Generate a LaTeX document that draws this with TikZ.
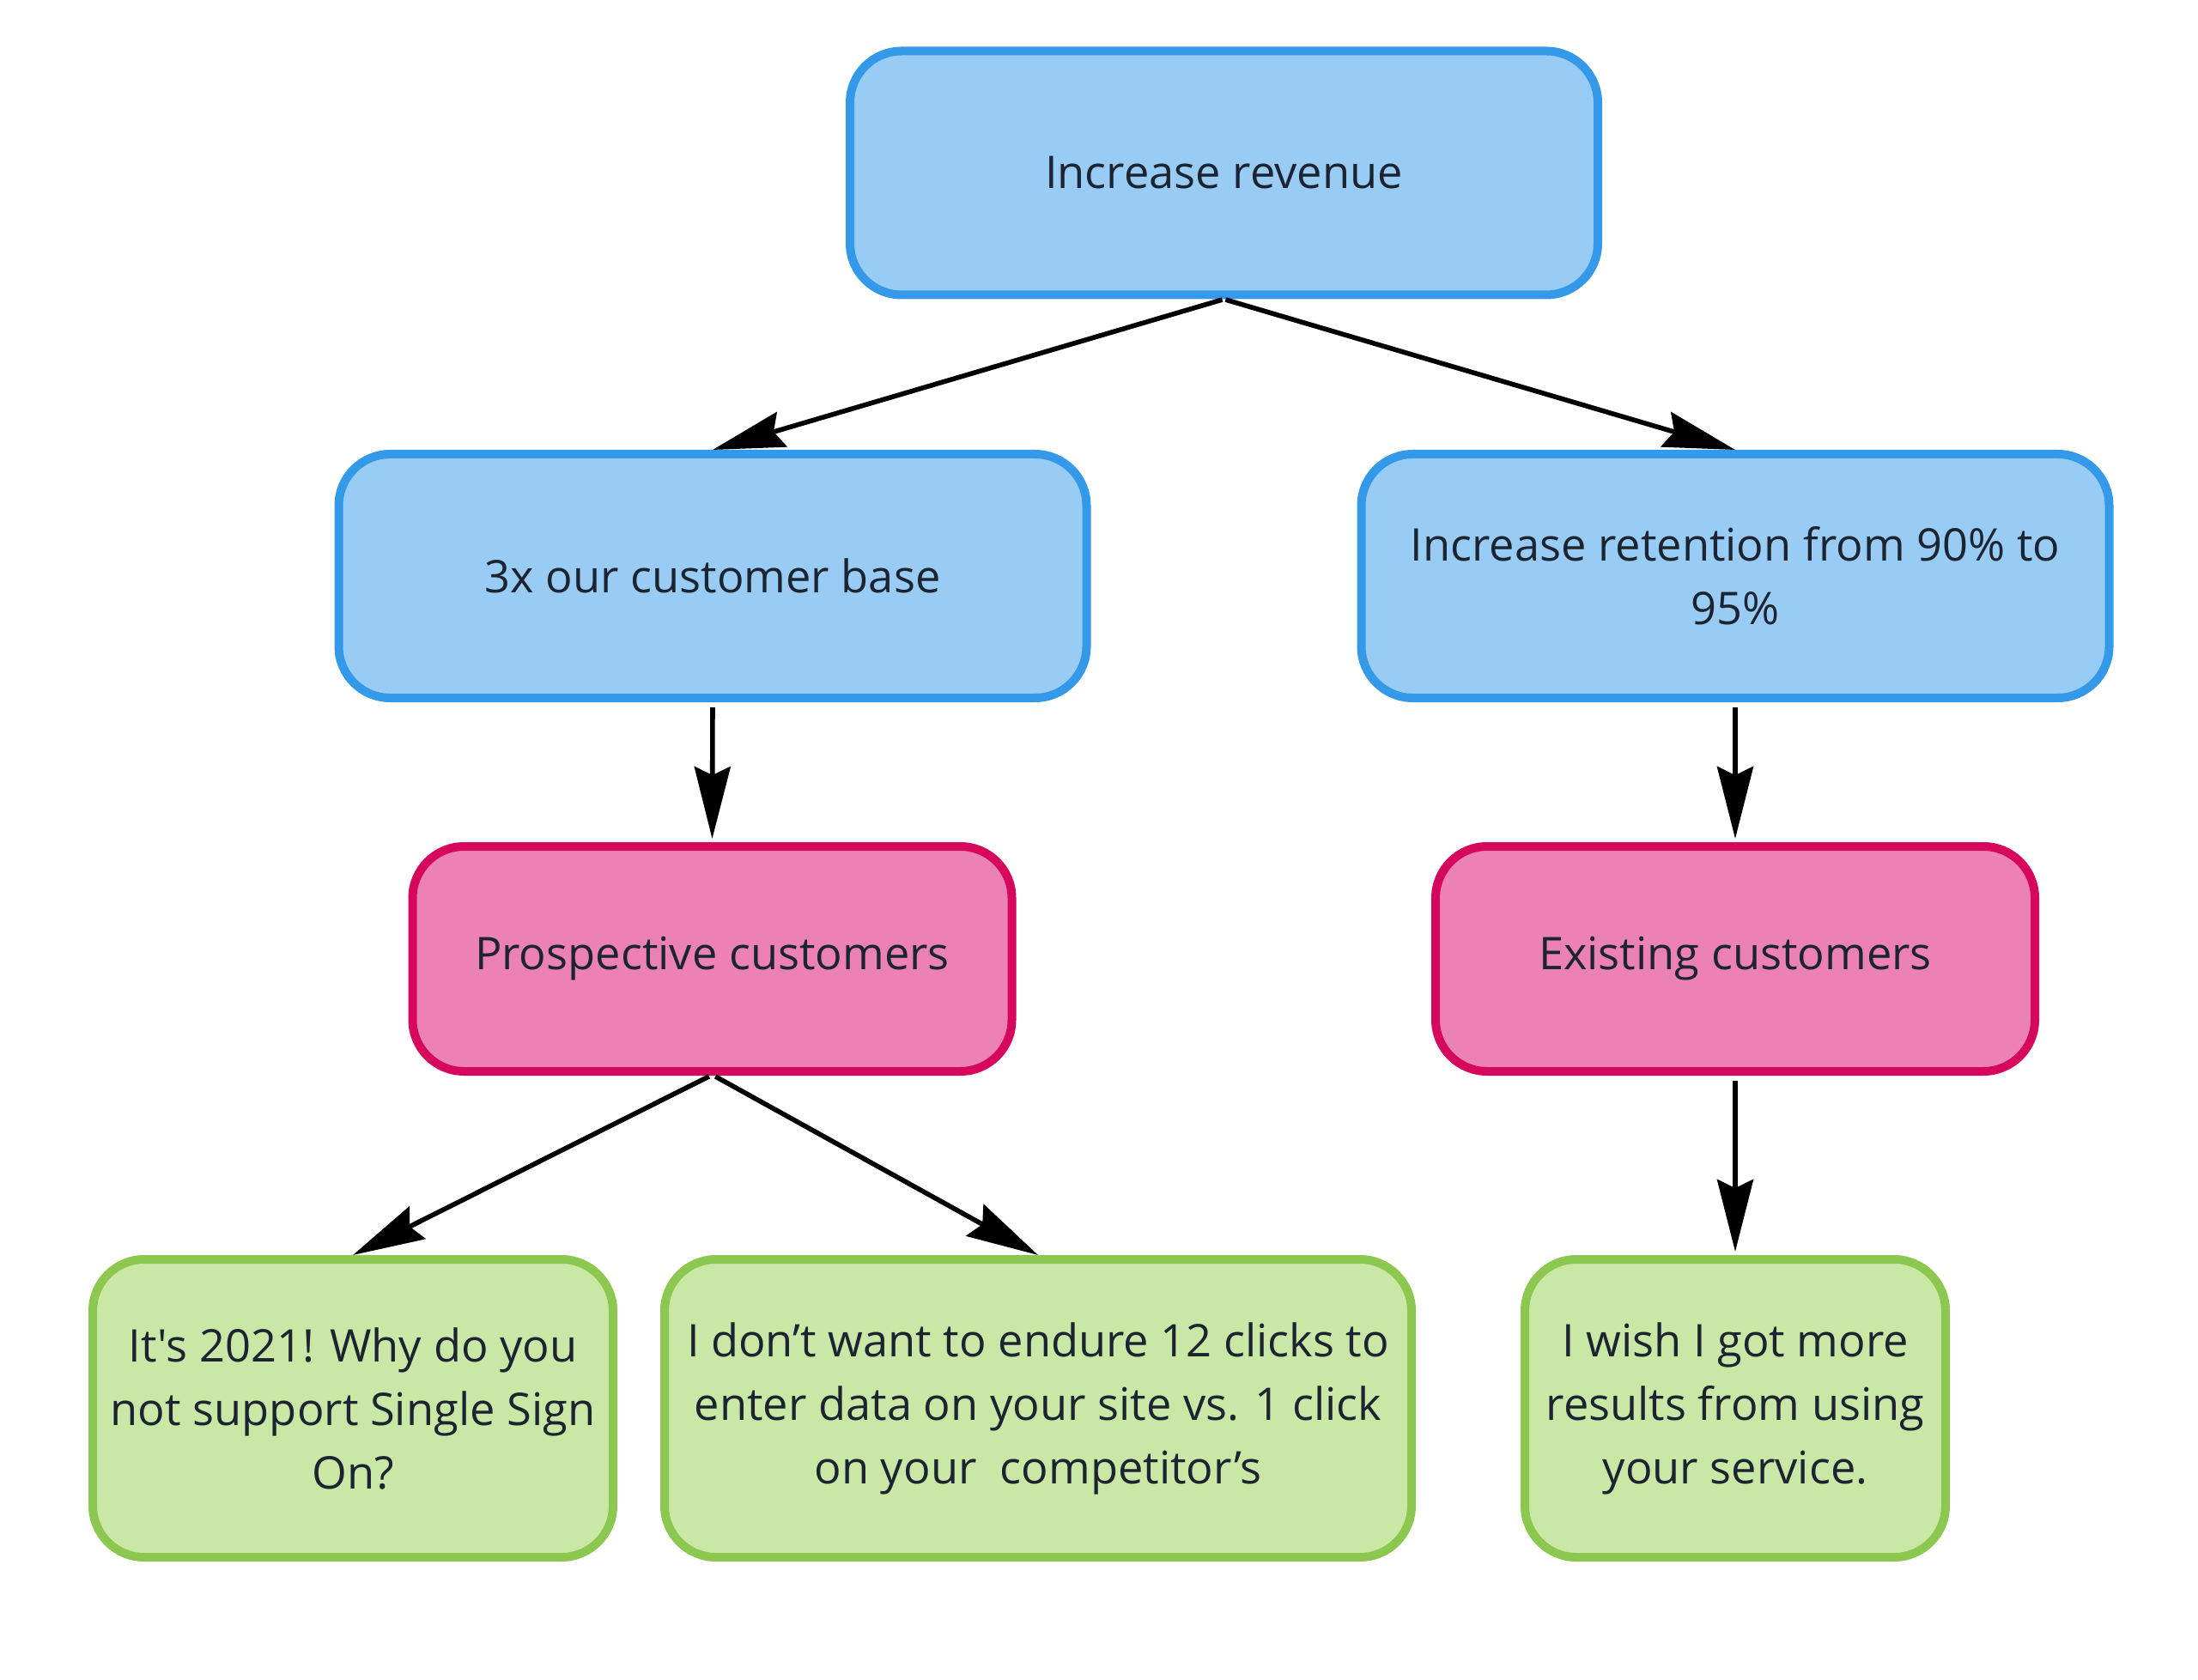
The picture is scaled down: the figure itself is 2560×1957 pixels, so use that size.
\documentclass[tikz,border=0pt]{standalone}
\usepackage{fontspec}
\setmainfont{Open Sans}[Ligatures=TeXOff]
\usetikzlibrary{arrows.meta,calc}
\definecolor{bluefill}{RGB}{152,204,244}
\definecolor{blueline}{RGB}{51,153,232}
\definecolor{pinkfill}{RGB}{236,130,180}
\definecolor{pinkline}{RGB}{214,8,94}
\definecolor{greenfill}{RGB}{201,232,166}
\definecolor{greenline}{RGB}{140,200,80}
\definecolor{txt}{RGB}{27,36,48}
\begin{document}
\begin{tikzpicture}[x=0.25pt,y=-0.25pt,
  box/.style={rounded corners=15pt, line width=2.5pt, align=center, inner sep=0pt,
    text=txt, font=\fontsize{13.1pt}{18.5pt}\selectfont},
  bluebox/.style={box, draw=blueline, fill=bluefill, minimum width=217.75pt, minimum height=71pt},
  pinkbox/.style={box, draw=pinkline, fill=pinkfill, minimum width=174.5pt, minimum height=65.5pt},
  greenbox/.style={box, draw=greenline, fill=greenfill, minimum height=86.75pt},
  conn/.style={line width=1.4pt, -{Stealth[length=21pt,width=10.5pt,inset=2.5pt]}}]
\useasboundingbox (0,0) rectangle (2560,1957);
\fill[white] (0,0) rectangle (2560,1957);
\node[bluebox] (top) at (1425.5,201.5) {Increase revenue};
\node[bluebox] (cust) at (830,671) {3x our customer base};
\node[bluebox] (ret) at (2021,671) {Increase retention from 90\% to\\95\%};
\node[pinkbox] (pros) at (829.5,1117) {Prospective customers};
\node[pinkbox] (exist) at (2021,1117) {Existing customers};
\node[greenbox, minimum width=151.5pt] (g1) at (411,1640.5) {It's 2021! Why do you\\not support Single Sign\\On?};
\node[greenbox, minimum width=217.5pt] (g2) at (1209,1640.5) {I don’t want to endure 12 clicks to\\enter data on your site vs. 1 click\\on your\ \ competitor’s};
\node[greenbox, minimum width=122.5pt] (g3) at (2021,1640.5) {I wish I got more\\results from using\\your service.};
\draw[conn, shorten <=0.5pt] (top.south) -- (cust.north);
\draw[conn, shorten <=0.5pt] (top.south) -- (ret.north);
\draw[conn, shorten <=1.5pt, shorten >=1pt] (cust.south) -- (pros.north);
\draw[conn, shorten <=1.5pt, shorten >=1pt] (ret.south) -- (exist.north);
\draw[conn, shorten <=0.5pt] ([xshift=-0.5pt]pros.south) -- (g1.north);
\draw[conn, shorten <=0.5pt] ([xshift=0.5pt]pros.south) -- (g2.north);
\draw[conn, shorten <=1.5pt, shorten >=1pt] (exist.south) -- (g3.north);
\end{tikzpicture}
\end{document}
